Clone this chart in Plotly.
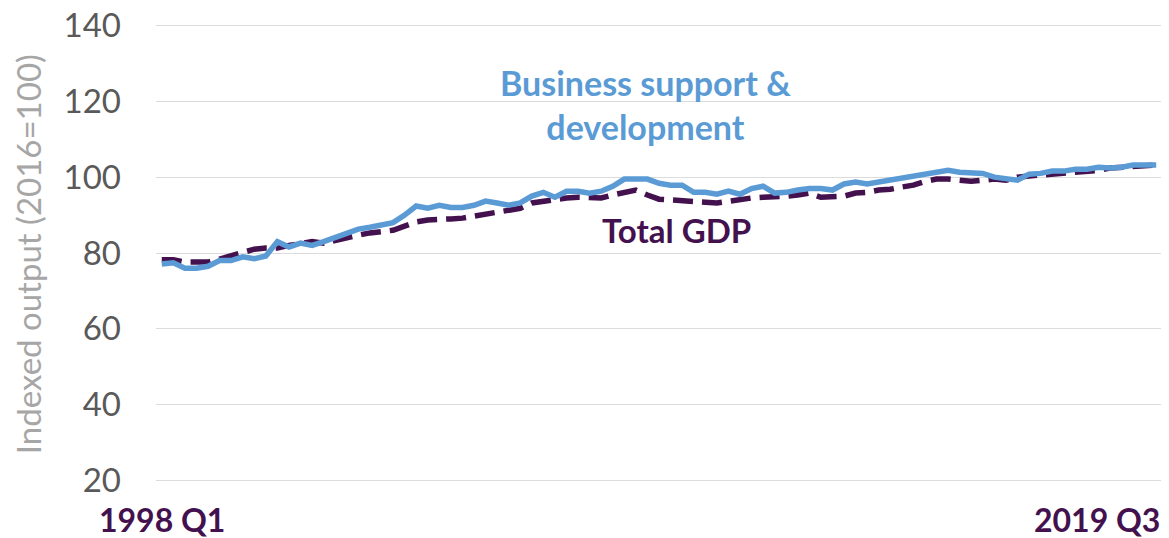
import plotly.graph_objects as go

quarters = [f"{y} Q{q}" for y in range(1998, 2020) for q in range(1, 5)][:87]

business = [77.1, 77.4, 76.0, 76.0, 76.5, 78.0, 78.0, 79.0, 78.5, 79.2,
            83.0, 81.6, 82.6, 82.0, 83.0, 84.0, 85.3, 86.3, 86.8, 87.4,
            88.0, 90.0, 92.4, 91.8, 92.6, 92.0, 92.0, 92.6, 93.7, 93.2,
            92.6, 93.2, 95.0, 96.0, 94.7, 96.3, 96.3, 95.8, 96.3, 97.6,
            99.5, 99.5, 99.5, 98.4, 97.9, 97.9, 96.0, 96.0, 95.5, 96.3,
            95.5, 97.0, 97.6, 95.8, 96.0, 96.6, 97.0, 97.0, 96.6, 98.2,
            98.7, 98.2, 98.7, 99.2, 99.5, 100.3, 100.5, 101.3, 101.8, 101.3,
            101.0, 101.0, 100.0, 99.7, 99.2, 100.8, 101.0, 101.6, 101.6, 102.1,
            102.1, 102.6, 102.4, 102.6, 103.2, 103.2, 103.2]

gdp = [78.2, 78.2, 77.6, 77.6, 77.6, 78.4, 79.2, 80.0, 81.0, 81.3,
       81.3, 82.0, 82.6, 83.0, 82.6, 83.4, 84.2, 84.7, 85.3, 85.5,
       86.0, 87.1, 88.2, 88.7, 89.0, 89.0, 89.2, 89.7, 90.5, 91.0,
       91.3, 91.8, 93.2, 93.7, 94.0, 94.5, 94.7, 94.7, 94.5, 95.3,
       95.8, 96.6, 95.3, 94.2, 94.0, 93.7, 93.4, 93.4, 93.2, 93.7,
       94.2, 94.5, 94.7, 94.7, 95.0, 95.3, 95.8, 94.7, 94.7, 95.0,
       95.8, 96.0, 96.6, 96.8, 97.4, 97.9, 98.9, 99.5, 99.5, 99.2,
       98.9, 99.2, 99.5, 99.2, 100.0, 100.3, 100.5, 100.8, 101.0, 101.3,
       101.6, 101.8, 102.4, 102.6, 102.9, 103.2, 103.2]

y_ticks = [20, 40, 60, 80, 100, 120, 140]

BLUE = "#5B9BD5"
PURPLE = "#44114F"
FONT = "Lato"

x_idx = list(range(len(quarters)))

fig = go.Figure()
fig.add_trace(go.Scatter(x=x_idx, y=gdp, mode="lines", name="Total GDP",
                         line=dict(color=PURPLE, width=5.5, dash="20px,9px")))
fig.add_trace(go.Scatter(x=x_idx, y=business, mode="lines",
                         name="Business support & development",
                         line=dict(color=BLUE, width=5.5)))

# page body has an 8px default margin, so the figure is sized/offset to compensate
fig.update_layout(
    width=1161, height=530,
    margin=dict(l=148, r=7, t=16, b=56, autoexpand=False),
    plot_bgcolor="white", paper_bgcolor="white",
    showlegend=False,
    font=dict(family=FONT),
    xaxis=dict(range=[-0.5, len(quarters) - 0.5], showgrid=False,
               showticklabels=False, zeroline=False, showline=False,
               automargin=False),
    yaxis=dict(range=[19.6, 140.4], tickvals=y_ticks, showgrid=True,
               gridcolor="#dcdcdc", gridwidth=1, zeroline=False,
               showline=False, automargin=False,
               ticklabeloverflow="allow",
               tickfont=dict(size=33, color="#595959", family=FONT),
               ticklabelstandoff=34),
)

fig.add_annotation(x=-0.127, y=0.498, xref="paper", yref="paper",
                   text="Indexed output (2016=100)", textangle=-90,
                   showarrow=False, xanchor="center", yanchor="middle",
                   font=dict(size=33, color="#a6a6a6", family=FONT))
fig.add_annotation(x=0, y=0, xref="x", yref="paper", yshift=-16,
                   text="<b>1998 Q1</b>", showarrow=False, xanchor="center",
                   yanchor="top", font=dict(size=32, color=PURPLE, family=FONT))
fig.add_annotation(x=len(quarters) - 0.5, y=0, xref="x", yref="paper", yshift=-16,
                   text="<b>2019 Q3</b>", showarrow=False, xanchor="right",
                   yanchor="top", font=dict(size=32, color=PURPLE, family=FONT))
fig.add_annotation(x=41.8, y=119.3, xref="x", yref="y",
                   text="<b>Business support &amp;<br>development</b>",
                   showarrow=False, xanchor="center", yanchor="middle",
                   font=dict(size=34, color=BLUE, family=FONT))
fig.add_annotation(x=44.5, y=86.0, xref="x", yref="y",
                   text="<b>Total GDP</b>", showarrow=False, xanchor="center",
                   yanchor="middle", font=dict(size=33, color=PURPLE, family=FONT))

fig.write_html("out.html")
